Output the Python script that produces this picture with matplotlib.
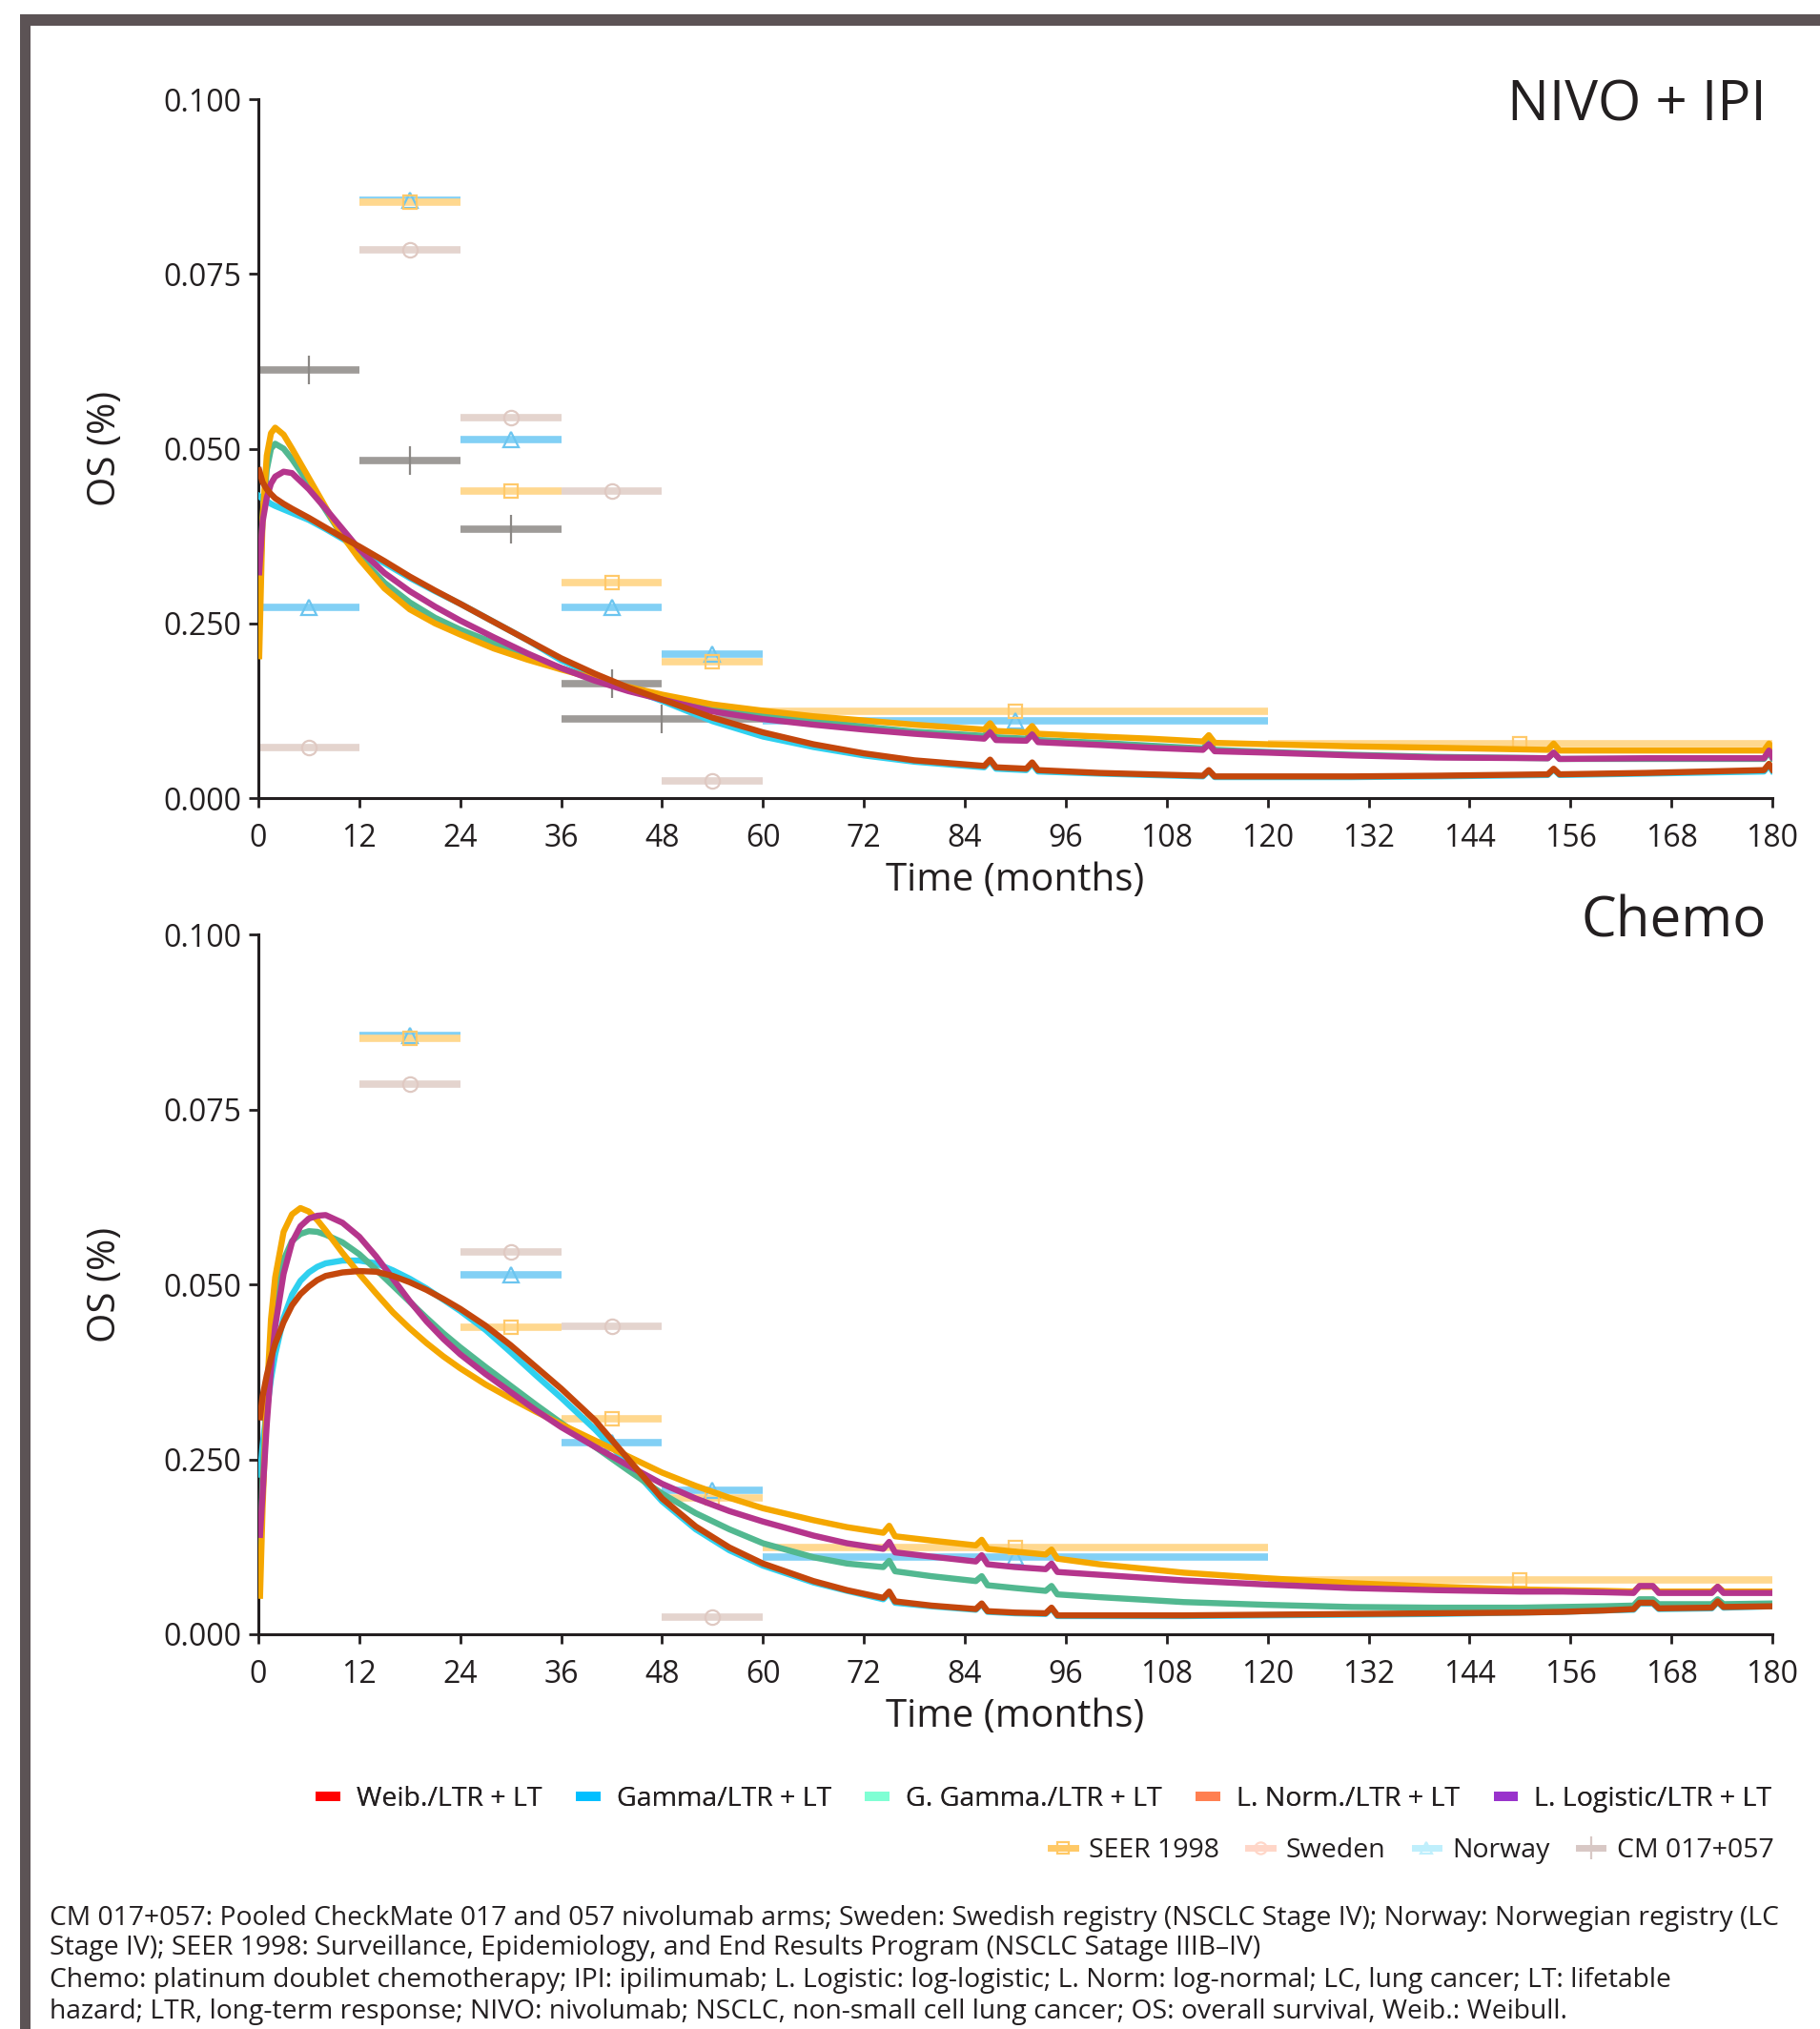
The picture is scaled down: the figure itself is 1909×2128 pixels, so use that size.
import numpy as np
import matplotlib.pyplot as plt
from matplotlib.lines import Line2D
from matplotlib.patches import Rectangle

plt.rcParams['font.family'] = ['Open Sans', 'DejaVu Sans']
TXT = '#231f20'

# ---------------- NIVO + IPI panel: model hazards ----------------
t_nivo = [0.1, 0.5, 1, 1.5, 2, 3, 4, 6, 8, 10, 12, 15, 18, 21, 24, 28, 32, 36, 40, 44,
          48, 54, 60, 66, 72, 78, 86.3, 87, 87.7, 91.3, 92, 92.7, 100, 106, 112.3, 113, 113.7,
          120, 130, 140, 153.3, 154, 154.7, 165, 179, 179.6, 180]
nivo_lnorm = [0.0203, 0.040, 0.049, 0.0522, 0.0530, 0.0520, 0.0500, 0.0458, 0.0416, 0.0375,
              0.0342, 0.0300, 0.0270, 0.0250, 0.0234, 0.0214, 0.0198, 0.0184, 0.0171, 0.0159,
              0.0148, 0.0134, 0.0125, 0.0117, 0.0111, 0.0105, 0.0098, 0.0107, 0.0096, 0.0094,
              0.0103, 0.0092, 0.0088, 0.0085, 0.0081, 0.0090, 0.0079, 0.0077, 0.0074, 0.0072,
              0.0069, 0.0078, 0.0068, 0.0068, 0.0068, 0.0078, 0.0071]
nivo_ggamma = [0.028, 0.040, 0.047, 0.050, 0.0507, 0.0500, 0.0485, 0.0450, 0.0412, 0.0375,
               0.0346, 0.0308, 0.0280, 0.0258, 0.0241, 0.0222, 0.0203, 0.0186, 0.0170, 0.0156,
               0.0145, 0.0128, 0.0119, 0.0110, 0.0102, 0.0095, 0.0089, 0.0098, 0.0087, 0.0085,
               0.0094, 0.0083, 0.0079, 0.0075, 0.0071, 0.0079, 0.0069, 0.0066, 0.0062, 0.0059,
               0.0057, 0.0065, 0.0056, 0.0056, 0.0056, 0.0066, 0.0057]
nivo_llogis = [0.0323, 0.0395, 0.0430, 0.0450, 0.0460, 0.0467, 0.0465, 0.0442, 0.0414, 0.0385,
               0.0356, 0.0322, 0.0296, 0.0274, 0.0254, 0.0230, 0.0207, 0.0186, 0.0168, 0.0153,
               0.0141, 0.0124, 0.0113, 0.0105, 0.0098, 0.0092, 0.0085, 0.0094, 0.0083, 0.0082,
               0.0091, 0.0080, 0.0076, 0.0072, 0.0069, 0.0077, 0.0067, 0.0065, 0.0061, 0.0058,
               0.0057, 0.0065, 0.0056, 0.0057, 0.0057, 0.0068, 0.0059]
nivo_gamma = [0.0432, 0.0428, 0.0425, 0.0421, 0.0418, 0.0413, 0.0408, 0.0398, 0.0385, 0.0371,
              0.0357, 0.0336, 0.0315, 0.0296, 0.0278, 0.0252, 0.0226, 0.0197, 0.0176, 0.0157,
              0.0139, 0.0110, 0.0088, 0.0073, 0.0061, 0.0052, 0.0044, 0.0053, 0.0042, 0.0040,
              0.0049, 0.0038, 0.0035, 0.0033, 0.0031, 0.0039, 0.0030, 0.0030, 0.0030, 0.0031,
              0.0033, 0.0041, 0.0033, 0.0035, 0.0038, 0.0047, 0.0039]
nivo_weib = [0.0469, 0.0452, 0.0442, 0.0435, 0.0429, 0.0421, 0.0414, 0.0401, 0.0387, 0.0373,
             0.0360, 0.0339, 0.0317, 0.0297, 0.0278, 0.0252, 0.0226, 0.0200, 0.0178, 0.0158,
             0.0141, 0.0115, 0.0094, 0.0077, 0.0064, 0.0054, 0.0046, 0.0055, 0.0044, 0.0042,
             0.0051, 0.0040, 0.0036, 0.0034, 0.0032, 0.0040, 0.0031, 0.0031, 0.0031, 0.0032,
             0.0034, 0.0042, 0.0034, 0.0036, 0.0040, 0.0049, 0.0041]

# ---------------- Chemo panel: model hazards ----------------
t_chemo = [0.2, 0.5, 1, 1.5, 2, 3, 4, 5, 6, 7, 8, 10, 12, 14, 16, 18, 20, 22, 24, 27, 30, 33,
           36, 40, 44, 48, 52, 56, 60, 66, 70, 74.3, 75, 75.7, 80, 85.3, 86, 86.7, 90, 93.6,
           94.3, 95, 100, 110, 120, 130, 140, 150, 155, 160, 163.5, 164.2, 165.8, 166.5,
           172.8, 173.5, 174.2, 180]
chemo_lnorm = [0.0055, 0.018, 0.034, 0.045, 0.051, 0.0575, 0.0600, 0.0609, 0.0604, 0.0592,
               0.0577, 0.0545, 0.0515, 0.0487, 0.0460, 0.0437, 0.0416, 0.0397, 0.0380, 0.0357,
               0.0337, 0.0318, 0.0300, 0.0277, 0.0254, 0.0231, 0.0212, 0.0195, 0.0180, 0.0163,
               0.0153, 0.0145, 0.0155, 0.0140, 0.0134, 0.0127, 0.0135, 0.0122, 0.0118, 0.0114,
               0.0121, 0.0108, 0.0100, 0.0088, 0.0080, 0.0073, 0.0068, 0.0064, 0.0063, 0.0062,
               0.0061, 0.0068, 0.0068, 0.0061, 0.0061, 0.0068, 0.0061, 0.0061]
chemo_ggamma = [0.0105, 0.022, 0.034, 0.042, 0.0475, 0.0535, 0.0562, 0.0572, 0.0576, 0.0575,
                0.0571, 0.0560, 0.0543, 0.0521, 0.0498, 0.0475, 0.0452, 0.0430, 0.0410, 0.0382,
                0.0355, 0.0328, 0.0302, 0.0268, 0.0234, 0.0201, 0.0173, 0.0150, 0.0130, 0.0110,
                0.0101, 0.0096, 0.0105, 0.0090, 0.0083, 0.0076, 0.0083, 0.0070, 0.0066, 0.0062,
                0.0069, 0.0057, 0.0053, 0.0046, 0.0042, 0.0039, 0.0038, 0.0038, 0.0039, 0.0040,
                0.0041, 0.0050, 0.0050, 0.0043, 0.0043, 0.0050, 0.0043, 0.0044]
chemo_llogis = [0.0142, 0.020, 0.030, 0.038, 0.044, 0.0515, 0.0560, 0.0583, 0.0594, 0.0598,
                0.0599, 0.0588, 0.0568, 0.0540, 0.0508, 0.0476, 0.0447, 0.0422, 0.0400, 0.0372,
                0.0346, 0.0320, 0.0296, 0.0268, 0.0241, 0.0215, 0.0194, 0.0176, 0.0161, 0.0141,
                0.0130, 0.0122, 0.0132, 0.0117, 0.0111, 0.0104, 0.0113, 0.0100, 0.0096, 0.0093,
                0.0101, 0.0089, 0.0085, 0.0077, 0.0071, 0.0066, 0.0063, 0.0061, 0.0061, 0.0060,
                0.0059, 0.0069, 0.0069, 0.0059, 0.0059, 0.0068, 0.0059, 0.0059]
chemo_gamma = [0.0228, 0.027, 0.032, 0.0365, 0.040, 0.0452, 0.0485, 0.0505, 0.0517, 0.0525,
               0.0530, 0.0534, 0.0534, 0.0530, 0.0520, 0.0508, 0.0494, 0.0478, 0.0462, 0.0435,
               0.0403, 0.0370, 0.0338, 0.0293, 0.0243, 0.0190, 0.0150, 0.0120, 0.0098, 0.0074,
               0.0062, 0.0050, 0.0059, 0.0045, 0.0040, 0.0035, 0.0043, 0.0032, 0.0030, 0.0029,
               0.0037, 0.0026, 0.0026, 0.0026, 0.0027, 0.0028, 0.0029, 0.0031, 0.0032, 0.0034,
               0.0035, 0.0044, 0.0044, 0.0036, 0.0037, 0.0046, 0.0038, 0.0040]
chemo_weib = [0.031, 0.034, 0.0370, 0.0395, 0.0415, 0.0446, 0.0470, 0.0486, 0.0497, 0.0506,
              0.0512, 0.0517, 0.0519, 0.0518, 0.0512, 0.0503, 0.0492, 0.0479, 0.0465, 0.0441,
              0.0413, 0.0382, 0.0351, 0.0306, 0.0250, 0.0194, 0.0154, 0.0124, 0.0101, 0.0076,
              0.0063, 0.0052, 0.0061, 0.0047, 0.0041, 0.0036, 0.0044, 0.0033, 0.0031, 0.0030,
              0.0038, 0.0027, 0.0027, 0.0027, 0.0028, 0.0029, 0.0030, 0.0031, 0.0032, 0.0034,
              0.0036, 0.0045, 0.0045, 0.0037, 0.0038, 0.0047, 0.0039, 0.0040]

# ---------------- observed hazards (interval start, end, value) ----------------
seer_lo = [12, 24, 36, 48, 60, 120]
seer_hi = [24, 36, 48, 60, 120, 180]
seer_val = [0.0852, 0.0439, 0.0308, 0.0195, 0.0124, 0.0078]

nivo_swe_lo = [0, 12, 24, 36, 48]
nivo_swe_hi = [12, 24, 36, 48, 60]
nivo_swe_val = [0.0072, 0.0785, 0.0545, 0.0439, 0.0024]
nivo_nor_lo = [0, 12, 24, 36, 48, 60]
nivo_nor_hi = [12, 24, 36, 48, 60, 120]
nivo_nor_val = [0.0273, 0.0856, 0.0513, 0.0273, 0.0206, 0.0110]
cm_lo = [0, 12, 24, 36, 36]
cm_hi = [12, 24, 36, 48, 60]
cm_val = [0.0612, 0.0483, 0.0385, 0.0164, 0.0113]

chemo_swe_lo = [12, 24, 36, 48]
chemo_swe_hi = [24, 36, 48, 60]
chemo_swe_val = [0.0786, 0.0546, 0.0440, 0.0025]
chemo_nor_lo = [12, 24, 36, 48, 60]
chemo_nor_hi = [24, 36, 48, 60, 120]
chemo_nor_val = [0.0856, 0.0514, 0.0274, 0.0206, 0.0110]

xticks = list(range(0, 181, 12))
yticks = [0, 0.025, 0.05, 0.075, 0.1]
ytick_labels = ['0.000', '0.250', '0.050', '0.075', '0.100']

model_names = ['Weib./LTR + LT', 'Gamma/LTR + LT', 'G. Gamma./LTR + LT',
               'L. Norm./LTR + LT', 'L. Logistic/LTR + LT']
legend_colors = ['#ff0000', '#00bfff', '#7fffd4', '#ff7f50', '#9932cc']
c_weib, c_gamma, c_gg, c_ln, c_ll = '#c4470c', '#2fd0ef', '#52b890', '#f5a700', '#b5358c'

obs_style = {
    'SEER 1998': dict(bar='#ffd88f', edge='#ffc96a', marker='s', ms=10),
    'Sweden': dict(bar='#e4d4ce', edge='#dfc9c2', marker='o', ms=11),
    'Norway': dict(bar='#82d0f5', edge='#6cc5ef', marker='^', ms=11),
    'CM 017+057': dict(bar='#9e9b98', edge='#8b8885', marker='|', ms=22),
}


def draw_obs(ax, name, lo, hi, val):
    st = obs_style[name]
    lo = np.array(lo, float)
    hi = np.array(hi, float)
    mid = (lo + hi) / 2
    ax.errorbar(mid, val, xerr=(hi - lo) / 2, fmt=st['marker'], ecolor=st['bar'],
                elinewidth=5.5, capsize=0, ms=st['ms'], mfc='none', mec=st['edge'],
                mew=1.6, zorder=2)


def draw_panel(ax, t, weib, gamma, gg, ln, ll, title, title_y):
    ax.plot(t, gamma, color=c_gamma, lw=4.6, zorder=3)
    ax.plot(t, gg, color=c_gg, lw=4.6, zorder=3)
    ax.plot(t, ln, color=c_ln, lw=4.6, zorder=3)
    ax.plot(t, ll, color=c_ll, lw=4.6, zorder=3)
    ax.plot(t, weib, color=c_weib, lw=4.6, zorder=3)
    ax.set_xlim(0, 180)
    ax.set_ylim(0, 0.1)
    ax.set_xticks(xticks)
    ax.set_yticks(yticks)
    ax.set_yticklabels(ytick_labels)
    for s in ['top', 'right']:
        ax.spines[s].set_visible(False)
    for s in ['left', 'bottom']:
        ax.spines[s].set_linewidth(2.2)
        ax.spines[s].set_color(TXT)
    ax.tick_params(axis='both', direction='out', length=7, width=2, color=TXT,
                   labelsize=23, labelcolor=TXT)
    ax.tick_params(axis='x', pad=12)
    ax.tick_params(axis='y', pad=6)
    ax.set_xlabel('Time (months)', fontsize=29, color=TXT)
    ax.xaxis.set_label_coords(0.5, -0.091)
    ax.set_ylabel('OS (%)', fontsize=29, color=TXT)
    ax.yaxis.set_label_coords(-0.088, 0.5)
    ax.text(0.996, title_y, title, transform=ax.transAxes, ha='right', va='center',
            fontsize=42, color=TXT)


fig = plt.figure(figsize=(19.09, 21.28), dpi=100)
ax1 = fig.add_axes([0.14196, 0.60667, 0.83185, 0.34445])
ax2 = fig.add_axes([0.14196, 0.19455, 0.83185, 0.34492])

draw_obs(ax1, 'Norway', nivo_nor_lo, nivo_nor_hi, nivo_nor_val)
draw_obs(ax1, 'SEER 1998', seer_lo, seer_hi, seer_val)
draw_obs(ax1, 'Sweden', nivo_swe_lo, nivo_swe_hi, nivo_swe_val)
draw_obs(ax1, 'CM 017+057', cm_lo, cm_hi, cm_val)
draw_panel(ax1, t_nivo, nivo_weib, nivo_gamma, nivo_ggamma, nivo_lnorm, nivo_llogis,
           'NIVO + IPI', 0.99)

draw_obs(ax2, 'Norway', chemo_nor_lo, chemo_nor_hi, chemo_nor_val)
draw_obs(ax2, 'SEER 1998', seer_lo, seer_hi, seer_val)
draw_obs(ax2, 'Sweden', chemo_swe_lo, chemo_swe_hi, chemo_swe_val)
draw_panel(ax2, t_chemo, chemo_weib, chemo_gamma, chemo_ggamma, chemo_lnorm, chemo_llogis,
           'Chemo', 1.018)

# legends
h1 = [Line2D([0], [0], color=c, lw=7, solid_capstyle='butt') for c in legend_colors]
leg1 = fig.legend(h1, model_names, loc='center right', bbox_to_anchor=(0.9735, 0.1132),
                  ncol=5, frameon=False, fontsize=20.5, handlelength=0.9, handletextpad=0.6,
                  columnspacing=1.25, borderpad=0, borderaxespad=0, labelcolor=TXT)
obs_leg_colors = {'SEER 1998': '#ffc966', 'Sweden': '#ffd6c8', 'Norway': '#bfeffc',
                  'CM 017+057': '#d8c8c5'}
h2 = []
for name, st in obs_style.items():
    c = obs_leg_colors[name]
    h2.append(Line2D([0], [0], color=c, lw=5, marker=st['marker'], ms=st['ms'] * 0.8,
                     mfc='none', mec=c, mew=1.6))
fig.legend(h2, list(obs_style.keys()), loc='center right', bbox_to_anchor=(0.9745, 0.0879),
           ncol=4, frameon=False, fontsize=20.5, handlelength=0.9, handletextpad=0.5,
           columnspacing=1.05, borderpad=0, borderaxespad=0, labelcolor=TXT)
fig.add_artist(leg1)

# footnote
notes = [
    'CM 017+057: Pooled CheckMate 017 and 057 nivolumab arms; Sweden: Swedish registry (NSCLC Stage IV); Norway: Norwegian registry (LC',
    'Stage IV); SEER 1998: Surveillance, Epidemiology, and End Results Program (NSCLC Satage IIIB–IV)',
    'Chemo: platinum doublet chemotherapy; IPI: ipilimumab; L. Logistic: log-logistic; L. Norm: log-normal; LC, lung cancer; LT: lifetable',
    'hazard; LTR, long-term response; NIVO: nivolumab; NSCLC, non-small cell lung cancer; OS: overall survival, Weib.: Weibull.',
]
note_y = [2012, 2043, 2077, 2110]
for s, y in zip(notes, note_y):
    fig.text(52 / 1909, 1 - y / 2128, s, ha='left', va='center', fontsize=20.3, color=TXT)

# frame
frame_c = '#5c5355'
fig.add_artist(Rectangle((21 / 1909, 1 - 27 / 2128), 1 - 21 / 1909, 12 / 2128,
                         transform=fig.transFigure, color=frame_c, lw=0))
fig.add_artist(Rectangle((21 / 1909, 0), 11 / 1909, 1 - 15 / 2128,
                         transform=fig.transFigure, color=frame_c, lw=0))

fig.savefig('out.png', dpi=100)
